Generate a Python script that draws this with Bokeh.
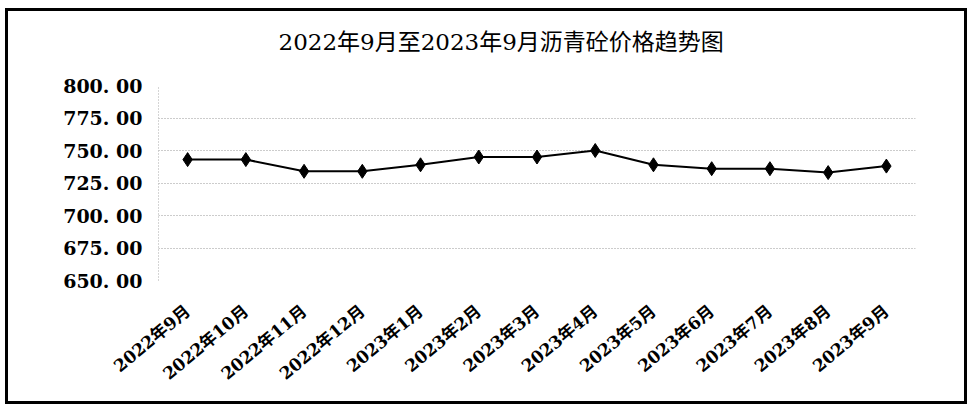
import math
from bokeh.plotting import figure
from bokeh.models import FixedTicker, Title
from bokeh.embed import file_html
from bokeh.resources import INLINE

months = ["2022年9月", "2022年10月", "2022年11月", "2022年12月", "2023年1月", "2023年2月",
          "2023年3月", "2023年4月", "2023年5月", "2023年6月", "2023年7月", "2023年8月", "2023年9月"]
prices = [743, 743, 734, 734, 739, 745, 745, 750, 739, 736, 736, 733, 738]
y_ticks = [650, 675, 700, 725, 750, 775, 800]
y_tick_labels = ["650. 00", "675. 00", "700. 00", "725. 00", "750. 00", "775. 00", "800. 00"]
title_text = "2022年9月至2023年9月沥青砼价格趋势图"

p = figure(width=962, height=396, x_range=months, y_range=(650, 800), title=None,
           output_backend="svg", toolbar_location=None,
           min_border_left=150, min_border_right=55, min_border_top=74, min_border_bottom=127)
p.styles = {"border": "3px solid black", "margin-left": "5px", "margin-top": "8px"}

spacer = Title(text=" ", text_font_size="1px", standoff=28)
p.add_layout(spacer, "above")
main_title = Title(text=title_text, text_font="DejaVu Serif, Noto Sans CJK SC",
                   text_font_size="23px", text_font_style="normal", text_color="black",
                   align="left", offset=120, standoff=0)
p.add_layout(main_title, "above")

p.line(months, prices, line_color="black", line_width=2)
p.scatter(months, prices, marker="diamond", size=14, fill_color="black", line_color="black")

p.outline_line_color = None
p.background_fill_color = "white"
p.border_fill_color = "white"

p.xgrid.grid_line_color = None
p.ygrid.ticker = FixedTicker(ticks=y_ticks)
p.ygrid.grid_line_color = "#999999"
p.ygrid.grid_line_dash = "1 2"
p.ygrid.grid_line_width = 1

p.yaxis.ticker = FixedTicker(ticks=y_ticks)
p.yaxis.major_label_overrides = {t: s for t, s in zip(y_ticks, y_tick_labels)}
p.yaxis.axis_line_color = "#aaaaaa"
p.yaxis.axis_line_dash = "1 2"
p.yaxis.major_tick_line_color = None
p.yaxis.minor_tick_line_color = None
p.yaxis.major_label_text_font = "DejaVu Serif"
p.yaxis.major_label_text_font_style = "bold"
p.yaxis.major_label_text_font_size = "19px"
p.yaxis.major_label_text_color = "black"
p.yaxis.major_label_standoff = 10

p.xaxis.axis_line_color = None
p.xaxis.major_tick_line_color = None
p.xaxis.minor_tick_line_color = None
p.xaxis.major_label_orientation = math.radians(40)
p.xaxis.major_label_text_font = "DejaVu Serif, Noto Sans CJK SC"
p.xaxis.major_label_text_font_style = "bold"
p.xaxis.major_label_text_font_size = "17px"
p.xaxis.major_label_text_color = "black"
p.xaxis.major_label_standoff = 22
p.x_range.range_padding = 0

open("out.html", "w").write(file_html(p, INLINE))
